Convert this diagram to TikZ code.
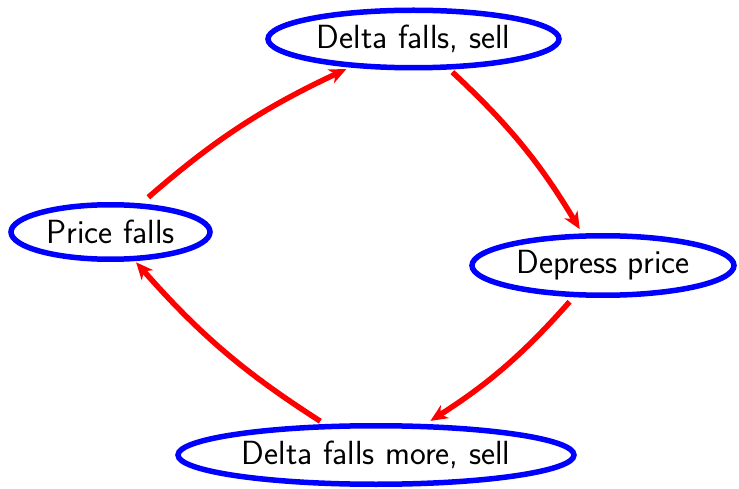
\documentclass[tikz,border=0pt]{standalone}
\usepackage{fontspec}
\usetikzlibrary{arrows.meta,shapes.geometric}
\begin{document}
\begin{tikzpicture}[x=1pt,y=1pt,
  stage/.style={ellipse,draw=blue,line width=5.5pt,inner sep=0pt,outer sep=0pt,
    font=\sffamily\fontsize{33.5}{40}\selectfont},
  flow/.style={draw=red,line width=5.5pt,
    -{Stealth[length=17pt,width=15pt,inset=5pt]},bend left=8}]
\useasboundingbox (0,0) rectangle (739,-489);
\node[stage,minimum width=291pt,minimum height=57.5pt] (T) at (413.5,-39) {Delta falls, sell};
\node[stage,minimum width=199pt,minimum height=54.5pt] (P) at (110.5,-232) {Price falls};
\node[stage,minimum width=262pt,minimum height=59.5pt] (D) at (603,-265.5) {Depress price};
\node[stage,minimum width=396pt,minimum height=58.5pt] (M) at (376,-455) {Delta falls more, sell};
\draw[flow,shorten <=13pt,shorten >=9pt] (P.43) to (T.204);
\draw[flow,shorten <=7.5pt,shorten >=8pt] (T.-40) to (D.123);
\draw[flow,shorten <=9.5pt,shorten >=10.5pt] (D.227) to (M.32);
\draw[flow,shorten <=10pt,shorten >=5pt] (M.149) to (P.-50);
\end{tikzpicture}
\end{document}
